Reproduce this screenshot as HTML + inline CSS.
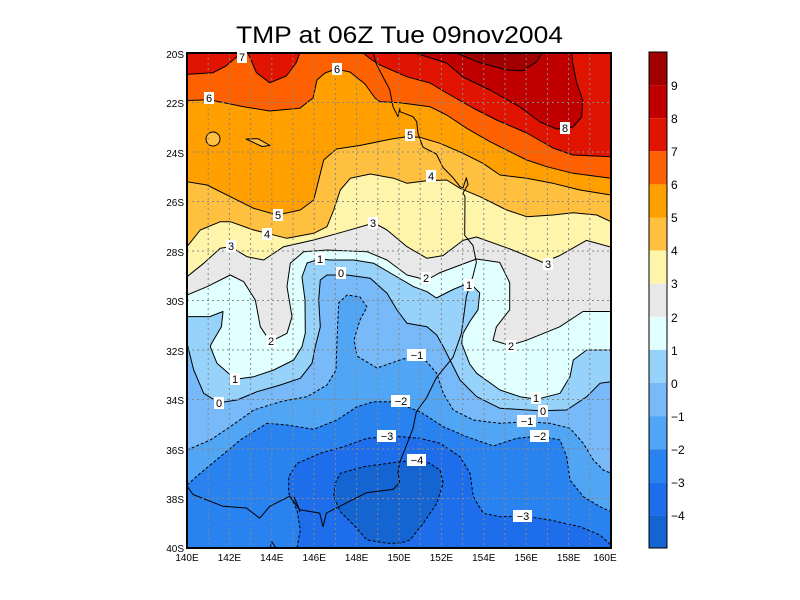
<!DOCTYPE html>
<html><head><meta charset="utf-8"><style>
html,body{margin:0;padding:0;background:#fff;}
svg{display:block;font-family:"Liberation Sans",sans-serif;}
</style></head><body>
<svg width="800" height="600" viewBox="0 0 800 600" xmlns="http://www.w3.org/2000/svg">
<rect width="800" height="600" fill="#fff"/>
<text x="236" y="43" font-size="24" textLength="327" lengthAdjust="spacingAndGlyphs" fill="#000">TMP at 06Z Tue 09nov2004</text>
<defs><clipPath id="pc"><rect x="187" y="53" width="424" height="495"/></clipPath></defs>
<g clip-path="url(#pc)" stroke="#000" stroke-width="1" stroke-linejoin="round">
<rect x="187" y="53" width="424" height="495" fill="#e8e8e8" stroke="none"/>
<!-- warm -->
<polygon fill="#fff5aa" points="187,53 611,53 611,247.2 586.4,240.4 559.7,255.6 543,262.4 509.7,248.9 476.4,237 463,240.4 443,255.6 427,258.3 407,246.7 387,230 373.7,222.7 367,225 343.7,231.7 313.7,240 283.7,246.7 263.7,260 247,256.7 230.3,246.7 220.3,248.3 203.7,263.3 187,276.7"/>
<polygon fill="#ffc040" points="187,53 611,53 611,221.7 596.7,215 573,212.7 553,215 526.7,216.7 506.7,210 480,196.7 460,188.3 446.7,180 427,180.7 407,183.3 393.7,178.3 370.3,174 350.3,178.3 340.3,190 333.7,210 327,226.7 313.7,233.3 287,238.3 267,233.3 253.7,230 230.3,221.7 220.3,221.7 200.3,230 187,246.7"/>
<polygon fill="#ffa000" points="187,53 611,53 611,195 580,190 553,183.3 526.7,178.3 500,175 483,163.3 463,153.3 440,143.3 420,137.3 406.7,136.7 393,138.7 359.7,145.5 336.4,149 323.7,160 318.7,180 313.7,200 300.3,210 277,215 253.7,208.3 230.3,196.7 207,185 187,181.7"/>
<ellipse cx="213" cy="139" rx="7" ry="7" fill="#ffc040"/>
<polygon fill="#ffc040" points="246,139 258,138.7 270,145.5 262,146.5"/>
<polygon fill="#ff6000" points="187,53 611,53 611,178.3 573,173.3 546.7,166.7 526.7,160 510,151.7 490,141.7 466.7,128.3 446.7,115 430,106.7 400,102.7 380,101.7 375,98 365,84 350,72 336,69 325,73 317,80 313,98 299.7,108.3 269.7,111 243,106.6 209.7,99.8 187,100.5"/>
<polygon fill="#e01400" points="187,53 239.7,53 236,57.4 226,66 213,72.7 187,74.4"/>
<polygon fill="#e01400" points="248,53 256.4,72.7 269.7,82.8 286.4,76 296.4,62.5 299.7,53"/>
<polygon fill="#e01400" points="363,53 372,60 380,65 406.7,76.7 430,83 446.7,93 473,108 496.7,120 526.7,133 553,148 573,155 611,156.7 611,53"/>
<polygon fill="#c00000" points="415,53 446.7,63 463,77 490,90 520,107 540,122 556.7,129 573,127 581.7,117 582.7,100 576.7,83 572.7,63 571.7,53"/>
<polygon fill="#a00000" points="456.7,53 476.7,61.7 506.7,70 523,70.7 536.7,61.7 542,53"/>
<!-- cold -->
<polygon fill="#e0ffff" points="187,295 207,286.7 230.3,275 243.7,281.7 255.3,300 260.3,326.7 270.3,341.7 287,333.3 292,316.7 287,286.7 290.3,263.3 303.7,251.7 327,250 367,251.7 387,260 407,275 427,280 440,272.6 476.4,259 499.7,262.4 509.7,282.7 509.7,309.8 496.4,326.8 493,340.3 509.7,345.4 526.4,340.3 559.7,326.8 583,311.5 611,311.5 611,548 187,548"/>
<polygon fill="#96d2fa" points="187,316.6 209.7,316.6 223,311.5 221.4,326.8 211.4,343.7 210.3,346.7 217,363.3 235.3,379.3 253.7,376.7 273.7,370 293.7,360 302,346.7 305.3,333 305,300 302,277 307,263 320,259 330,260 353.7,260 373.7,263.3 393.7,275 413.7,286.7 427,291.7 436.4,298 453,289.5 469.7,282.7 479.7,292.9 478,309.8 469.7,321.7 463,333.6 461.7,343.3 469.7,364 476.7,373.3 500,390 520,396.7 536.7,399.3 560,393.3 570,376.7 573.3,360 586.7,350 611,350 611,548 187,548"/>
<polygon fill="#78b9fa" points="187,343.3 193.7,370 203.7,393.3 218.7,402.7 237,400 257,391.7 280.3,385 300.3,378.3 312,363.3 315.3,346.7 320.3,326.7 318.7,300 320.3,280 327,275 347,275 370.3,278.3 387,293.3 397,310 407,323.3 427,326.7 436.7,335 443.3,346.7 450,360 460,380 476.7,396.7 500,408.3 540,410.7 566.7,410 586.7,396.7 600,383.3 611,381.7 611,548 187,548"/>
<polygon fill="#50a5f5" stroke-dasharray="3,2" points="187,450 210.3,440 230.3,426.7 253.7,410 280.3,401.7 307,396.7 327,385 336,370 337,340 338.7,303 347,295 360,297 367,307 360,320 354,340 357,356 377,368 400,360 417,355 426.7,361.7 436.7,373.3 443.3,393.3 453.3,410 473.3,420 500,423.3 526.7,421.7 550,423.3 570,428.3 583.3,443.3 593.3,460 603.3,470 611,473.3 611,548 187,548"/>
<polygon fill="#2882f0" stroke-dasharray="3,2" points="187,485 200.3,473.3 220.3,456.7 240.3,440 267,423.3 287,425 313.7,429.3 337,420 357,406.7 373.7,401.7 393.7,401.7 420,411.7 443.3,426.7 466.7,436.7 493.3,446 516.7,438.3 540,436 560,440 566.7,456.7 570,480 583.3,496.7 600,506.7 611,511.7 611,548 187,548"/>
<polygon fill="#1e6eeb" stroke-dasharray="3,2" points="297,548 300.3,530 297,510 288.7,493.3 288.7,476.7 297,463.3 320.3,453.3 343.7,446.7 367,438.3 387,436.7 400,436.7 420,438.3 440,443.3 460,456.7 470,473.3 473.3,496.7 483.3,513.3 500,516.7 523.3,516 550,520 580,526.7 600,535 611,545 611,548"/>
<polygon fill="#1464d2" stroke-dasharray="3,2" points="335.3,483.3 340.3,473.3 363.7,466.7 400.3,461.7 417,460 426.7,461.7 440,470 443.3,483.3 436.7,503.3 423.3,523.3 410,540 400,543.3 387,543.3 367,540 353.7,525 340.3,511.7 333.7,496.7"/>
<!-- coast -->
<polyline fill="none" points="373,53 376.4,64.2 389.7,89.6 393,106.6 398,116.7 399.7,108.3 400,111.7 413,116.7 416.7,121.7 418,133.7 423,147.2 436.4,154 443,167.5 453,177.7 460,186.7 463,187.9 466.4,177.7 468,184.5 463,193 465,196.7 464.7,235.3 473,245.5 476.4,262.4 473,276 466.4,296.3 461.4,333.6 453,357.3 436.4,377.6 426.4,398 416.4,411.5 413,428.4 406.4,445.4 399.7,462.3 398,472.5 399.7,482.6 393,489.4 366.4,492.8 339.7,506.3 326.4,513.1 323,526.7 319.7,513.1 299.7,509.7 289.7,496.2 269.7,506.3 259.7,518.2 246.4,508 223,506.3 193,494.5 187,486"/>
<polyline fill="none" points="294,497 298,506 300,512"/>
<polyline fill="none" points="270,548 272,542 276,548"/>
</g>
<!-- grid -->
<g stroke="#888" stroke-width="1" stroke-dasharray="2,3">
<line x1="208.2" y1="53" x2="208.2" y2="548"/><line x1="229.4" y1="53" x2="229.4" y2="548"/><line x1="250.6" y1="53" x2="250.6" y2="548"/><line x1="271.8" y1="53" x2="271.8" y2="548"/><line x1="293" y1="53" x2="293" y2="548"/><line x1="314.2" y1="53" x2="314.2" y2="548"/><line x1="335.4" y1="53" x2="335.4" y2="548"/><line x1="356.6" y1="53" x2="356.6" y2="548"/><line x1="377.8" y1="53" x2="377.8" y2="548"/><line x1="399" y1="53" x2="399" y2="548"/><line x1="420.2" y1="53" x2="420.2" y2="548"/><line x1="441.4" y1="53" x2="441.4" y2="548"/><line x1="462.6" y1="53" x2="462.6" y2="548"/><line x1="483.8" y1="53" x2="483.8" y2="548"/><line x1="505" y1="53" x2="505" y2="548"/><line x1="526.2" y1="53" x2="526.2" y2="548"/><line x1="547.4" y1="53" x2="547.4" y2="548"/><line x1="568.6" y1="53" x2="568.6" y2="548"/><line x1="589.8" y1="53" x2="589.8" y2="548"/>
</g>
<g stroke="#888" stroke-width="1" stroke-dasharray="2,3">
<line x1="187" y1="102.5" x2="611" y2="102.5"/><line x1="187" y1="152" x2="611" y2="152"/><line x1="187" y1="201.5" x2="611" y2="201.5"/><line x1="187" y1="251" x2="611" y2="251"/><line x1="187" y1="300.5" x2="611" y2="300.5"/><line x1="187" y1="350" x2="611" y2="350"/><line x1="187" y1="399.5" x2="611" y2="399.5"/><line x1="187" y1="449" x2="611" y2="449"/><line x1="187" y1="498.5" x2="611" y2="498.5"/>
</g>
<rect x="187" y="53" width="424" height="495" fill="none" stroke="#000" stroke-width="2"/>
<!-- contour labels -->
<g font-size="11" text-anchor="middle">
<g fill="#fff"><rect x="237" y="51" width="10" height="12"/><rect x="332" y="63" width="10" height="12"/><rect x="204" y="92" width="10" height="12"/><rect x="560" y="122" width="10" height="12"/><rect x="405" y="129" width="10" height="12"/><rect x="426" y="170" width="10" height="12"/><rect x="273" y="209" width="10" height="12"/><rect x="262" y="228" width="10" height="12"/><rect x="226" y="240" width="10" height="12"/><rect x="368" y="217" width="10" height="12"/><rect x="543" y="258" width="10" height="12"/><rect x="315" y="253" width="10" height="12"/><rect x="336" y="267" width="10" height="12"/><rect x="421" y="272" width="10" height="12"/><rect x="464" y="279" width="10" height="12"/><rect x="266" y="335" width="10" height="12"/><rect x="506" y="340" width="10" height="12"/><rect x="407" y="349" width="19" height="12"/><rect x="230" y="373" width="10" height="12"/><rect x="214" y="397" width="10" height="12"/><rect x="531" y="392" width="10" height="12"/><rect x="538" y="405" width="10" height="12"/><rect x="517" y="415" width="19" height="12"/><rect x="530" y="430" width="19" height="12"/><rect x="391" y="395" width="19" height="12"/><rect x="377" y="430" width="19" height="12"/><rect x="407" y="454" width="19" height="12"/><rect x="513" y="510" width="19" height="12"/></g>
<text x="242" y="61">7</text><text x="337" y="73">6</text><text x="209" y="102">6</text><text x="565" y="132">8</text><text x="410" y="139">5</text><text x="431" y="180">4</text><text x="278" y="219">5</text><text x="267" y="238">4</text><text x="231" y="250">3</text><text x="373" y="227">3</text><text x="548" y="268">3</text><text x="320" y="263">1</text><text x="341" y="277">0</text><text x="426" y="282">2</text><text x="469" y="289">1</text><text x="271" y="345">2</text><text x="511" y="350">2</text><text x="417" y="359">−1</text><text x="235" y="383">1</text><text x="219" y="407">0</text><text x="536" y="402">1</text><text x="543" y="415">0</text><text x="527" y="425">−1</text><text x="540" y="440">−2</text><text x="401" y="405">−2</text><text x="387" y="440">−3</text><text x="417" y="464">−4</text><text x="523" y="520">−3</text>
</g>
<!-- axis labels -->
<g font-size="10" text-anchor="end">
<text x="184" y="58">20S</text><text x="184" y="107">22S</text><text x="184" y="157">24S</text><text x="184" y="206">26S</text><text x="184" y="256">28S</text><text x="184" y="305">30S</text><text x="184" y="355">32S</text><text x="184" y="404">34S</text><text x="184" y="454">36S</text><text x="184" y="503">38S</text><text x="184" y="552">40S</text>
</g>
<g font-size="10" text-anchor="middle">
<text x="187" y="561">140E</text><text x="229.4" y="561">142E</text><text x="271.8" y="561">144E</text><text x="314.2" y="561">146E</text><text x="356.6" y="561">148E</text><text x="399" y="561">150E</text><text x="441.4" y="561">152E</text><text x="483.8" y="561">154E</text><text x="526.2" y="561">156E</text><text x="568.6" y="561">158E</text><text x="605" y="561">160E</text>
</g>
<!-- colorbar -->
<g>
<rect x="649" y="52" width="18" height="33.1" fill="#a00000"/>
<rect x="649" y="85.1" width="18" height="33.1" fill="#c00000"/>
<rect x="649" y="118.2" width="18" height="33.1" fill="#e01400"/>
<rect x="649" y="151.3" width="18" height="33.1" fill="#ff6000"/>
<rect x="649" y="184.4" width="18" height="33.1" fill="#ffa000"/>
<rect x="649" y="217.5" width="18" height="33.1" fill="#ffc040"/>
<rect x="649" y="250.6" width="18" height="33.1" fill="#fff5aa"/>
<rect x="649" y="283.7" width="18" height="33.1" fill="#e8e8e8"/>
<rect x="649" y="316.8" width="18" height="33.1" fill="#e0ffff"/>
<rect x="649" y="349.9" width="18" height="33.1" fill="#96d2fa"/>
<rect x="649" y="383" width="18" height="33.1" fill="#78b9fa"/>
<rect x="649" y="416.1" width="18" height="33.1" fill="#50a5f5"/>
<rect x="649" y="449.2" width="18" height="33.1" fill="#2882f0"/>
<rect x="649" y="482.3" width="18" height="33.1" fill="#1e6eeb"/>
<rect x="649" y="515.4" width="18" height="32.6" fill="#1464d2"/>
<rect x="649" y="52" width="18" height="496" fill="none" stroke="#000" stroke-width="1"/>
</g>
<g font-size="12">
<text x="671" y="90">9</text><text x="671" y="123">8</text><text x="671" y="156">7</text><text x="671" y="189">6</text><text x="671" y="222">5</text><text x="671" y="255">4</text><text x="671" y="288">3</text><text x="671" y="322">2</text><text x="671" y="355">1</text><text x="671" y="388">0</text><text x="671" y="421">−1</text><text x="671" y="454">−2</text><text x="671" y="487">−3</text><text x="671" y="520">−4</text>
</g>
</svg>
</body></html>
